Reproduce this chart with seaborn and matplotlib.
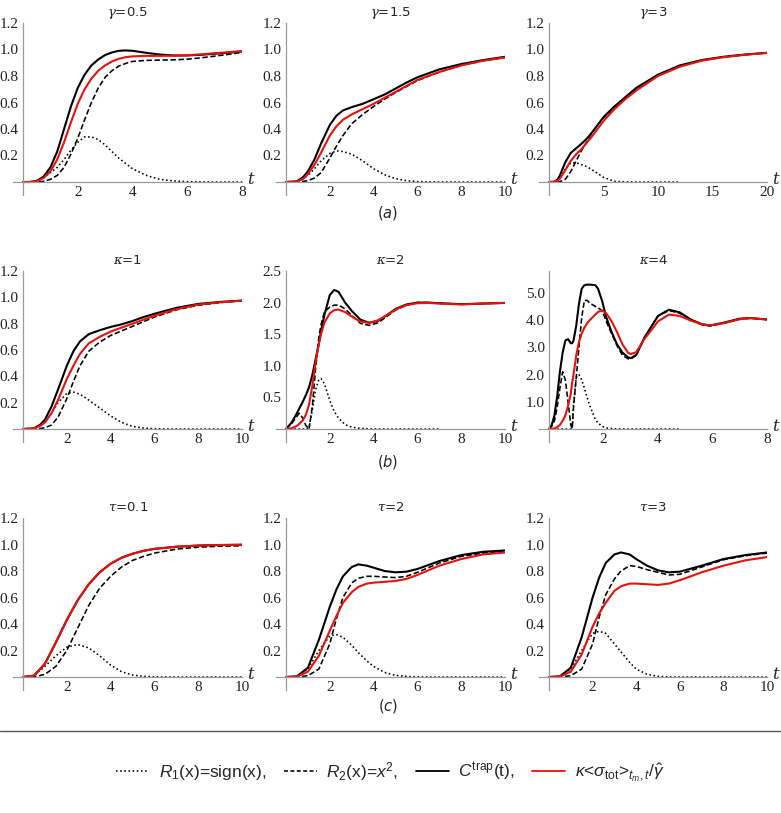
import matplotlib
matplotlib.use('Agg')
import matplotlib.pyplot as plt
import seaborn as sns
from matplotlib.lines import Line2D
from matplotlib.ticker import MultipleLocator, AutoMinorLocator, FuncFormatter

# ---- data (t, curve values) ----
# row (a): gamma
t_g05 = [0, 0.25, 0.5, 0.75, 1.0, 1.25, 1.5, 1.75, 2.0, 2.25, 2.5, 2.75, 3.0, 3.25, 3.5, 3.75, 4.0, 4.5, 5.0, 5.5, 6.0, 6.5, 7.0, 7.5, 8.0]
ctrap_g05 = [0, 0, 0.008, 0.04, 0.11, 0.23, 0.40, 0.57, 0.71, 0.81, 0.88, 0.925, 0.958, 0.978, 0.99, 0.993, 0.99, 0.975, 0.962, 0.955, 0.955, 0.96, 0.968, 0.976, 0.985]
kappa_g05 = [0, 0, 0.005, 0.03, 0.08, 0.17, 0.30, 0.45, 0.59, 0.70, 0.78, 0.84, 0.88, 0.91, 0.93, 0.942, 0.948, 0.952, 0.952, 0.953, 0.957, 0.963, 0.972, 0.98, 0.988]
r2_g05 = [0, 0, 0, 0.005, 0.02, 0.05, 0.11, 0.21, 0.33, 0.47, 0.60, 0.71, 0.79, 0.84, 0.875, 0.895, 0.91, 0.918, 0.92, 0.922, 0.927, 0.937, 0.95, 0.963, 0.978]
r1_g05 = [0, 0, 0.008, 0.035, 0.07, 0.11, 0.17, 0.24, 0.30, 0.34, 0.34, 0.32, 0.28, 0.23, 0.18, 0.14, 0.10, 0.05, 0.02, 0.008, 0.003, 0.001, 0, 0, 0]

t_g15 = [0, 0.5, 0.8, 1.0, 1.3, 1.6, 2.0, 2.3, 2.6, 3.0, 3.5, 4.0, 4.5, 5, 5.5, 6, 7, 8, 9, 10]
ctrap_g15 = [0, 0.005, 0.04, 0.08, 0.17, 0.29, 0.43, 0.50, 0.54, 0.565, 0.59, 0.625, 0.66, 0.705, 0.75, 0.79, 0.85, 0.89, 0.92, 0.945]
kappa_g15 = [0, 0.003, 0.025, 0.06, 0.13, 0.22, 0.35, 0.42, 0.47, 0.51, 0.55, 0.59, 0.635, 0.68, 0.725, 0.77, 0.83, 0.88, 0.915, 0.94]
r2_g15 = [0, 0, 0.005, 0.01, 0.03, 0.07, 0.18, 0.27, 0.35, 0.44, 0.51, 0.57, 0.625, 0.675, 0.72, 0.765, 0.83, 0.88, 0.915, 0.94]
r1_g15 = [0, 0.003, 0.03, 0.05, 0.10, 0.16, 0.215, 0.235, 0.23, 0.21, 0.16, 0.10, 0.055, 0.025, 0.01, 0.003, 0, 0, 0, 0]

t_g3 = [0, 0.5, 0.8, 1.0, 1.5, 2.0, 2.5, 3.0, 3.5, 4.0, 5.0, 6.0, 7.0, 8.0, 10, 12, 14, 16, 18, 20]
ctrap_g3 = [0, 0.002, 0.02, 0.05, 0.15, 0.22, 0.255, 0.29, 0.33, 0.38, 0.49, 0.57, 0.64, 0.71, 0.81, 0.88, 0.92, 0.945, 0.962, 0.975]
kappa_g3 = [0, 0.001, 0.01, 0.025, 0.09, 0.16, 0.21, 0.25, 0.30, 0.35, 0.46, 0.55, 0.625, 0.69, 0.80, 0.87, 0.915, 0.942, 0.96, 0.974]
r2_g3 = [0, 0, 0, 0.003, 0.02, 0.08, 0.16, 0.24, 0.31, 0.38, 0.485, 0.565, 0.635, 0.70, 0.805, 0.875, 0.918, 0.944, 0.961, 0.975]
r1_g3 = [0, 0.002, 0.015, 0.03, 0.10, 0.145, 0.145, 0.13, 0.115, 0.09, 0.035, 0.005, 0.001, 0, 0, 0]

# row (b): kappa
t_k1 = [0, 0.5, 0.8, 1.0, 1.3, 1.6, 2.0, 2.3, 2.6, 3.0, 3.5, 4.0, 4.5, 5, 5.5, 6, 7, 8, 9, 10]
ctrap_k1 = [0, 0.005, 0.035, 0.07, 0.17, 0.30, 0.48, 0.59, 0.665, 0.72, 0.75, 0.775, 0.795, 0.82, 0.85, 0.875, 0.92, 0.95, 0.965, 0.975]
kappa_k1 = [0, 0.003, 0.025, 0.05, 0.12, 0.22, 0.38, 0.48, 0.57, 0.65, 0.70, 0.74, 0.77, 0.80, 0.83, 0.86, 0.91, 0.945, 0.962, 0.975]
r2_k1 = [0, 0, 0.004, 0.01, 0.03, 0.09, 0.23, 0.36, 0.48, 0.59, 0.66, 0.71, 0.745, 0.78, 0.815, 0.85, 0.905, 0.94, 0.96, 0.975]
r1_k1 = [0, 0.004, 0.03, 0.05, 0.12, 0.20, 0.27, 0.28, 0.265, 0.22, 0.16, 0.10, 0.05, 0.02, 0.007, 0.002, 0, 0, 0, 0]

t_k2 = [0, 0.25, 0.5, 0.6, 0.75, 0.9, 1.05, 1.2, 1.35, 1.5, 1.6, 1.75, 2.0, 2.2, 2.4, 2.7, 3.0, 3.4, 3.8, 4.2, 4.6, 5.0, 5.5, 6.0, 6.5, 7, 8, 9, 10]
ctrap_k2 = [0, 0.1, 0.25, 0.32, 0.42, 0.53, 0.66, 0.85, 1.1, 1.35, 1.55, 1.8, 2.12, 2.2, 2.17, 2.0, 1.87, 1.73, 1.68, 1.71, 1.80, 1.9, 1.97, 2.0, 2.0, 1.99, 1.975, 1.985, 1.995]
kappa_k2 = [0, 0.01, 0.05, 0.08, 0.13, 0.22, 0.38, 0.68, 1.05, 1.35, 1.5, 1.68, 1.83, 1.88, 1.89, 1.85, 1.78, 1.70, 1.68, 1.72, 1.80, 1.89, 1.96, 1.99, 1.995, 1.985, 1.97, 1.985, 1.995]
r2_k2 = [0, 0.08, 0.2, 0.25, 0.18, 0.06, 0.0, 0.35, 0.95, 1.45, 1.65, 1.85, 1.93, 1.96, 1.96, 1.9, 1.8, 1.67, 1.64, 1.68, 1.78, 1.88, 1.96, 2.0, 2.0, 1.99, 1.975, 1.985, 1.995]
r1_k2 = [0, 0, 0, 0, 0, 0, 0.02, 0.30, 0.62, 0.78, 0.80, 0.72, 0.45, 0.28, 0.17, 0.07, 0.03, 0.01, 0.003, 0, 0, 0, 0, 0, 0, 0]

t_k4 = [0, 0.1, 0.2, 0.3, 0.4, 0.5, 0.6, 0.7, 0.8, 0.85, 0.9, 1.0, 1.1, 1.2, 1.3, 1.4, 1.5, 1.7, 1.8, 1.95, 2.1, 2.3, 2.5, 2.7, 2.9, 3.0, 3.2, 3.5, 4.0, 4.4, 4.8, 5.2, 5.6, 5.9, 6.4, 7.0, 7.4, 8.0]
ctrap_k4 = [0, 0.15, 0.5, 1.2, 2.1, 2.8, 3.25, 3.3, 3.15, 3.15, 3.25, 3.8, 4.6, 5.15, 5.28, 5.3, 5.3, 5.28, 5.15, 4.7, 4.1, 3.55, 3.1, 2.8, 2.63, 2.6, 2.72, 3.35, 4.15, 4.38, 4.28, 4.02, 3.85, 3.8, 3.9, 4.05, 4.07, 4.02]
kappa_k4 = [0, 0.005, 0.02, 0.07, 0.15, 0.3, 0.5, 0.85, 1.3, 1.7, 2.0, 2.7, 3.2, 3.5, 3.72, 3.88, 4.0, 4.2, 4.3, 4.35, 4.25, 3.95, 3.55, 3.1, 2.8, 2.75, 2.82, 3.3, 3.95, 4.2, 4.15, 3.98, 3.85, 3.8, 3.88, 4.03, 4.07, 4.02]
r2_k4 = [0, 0.1, 0.3, 0.8, 1.5, 2.1, 1.8, 1.0, 0.15, 0.0, 0.8, 1.9, 3.0, 4.1, 4.72, 4.72, 4.62, 4.5, 4.45, 4.35, 3.95, 3.5, 3.05, 2.7, 2.58, 2.57, 2.7, 3.35, 4.15, 4.35, 4.25, 4.0, 3.83, 3.78, 3.88, 4.04, 4.07, 4.02]
r1_k4 = [0, 0, 0, 0, 0, 0, 0, 0, 0, 0, 0.9, 1.9, 2.0, 1.8, 1.5, 1.15, 0.85, 0.35, 0.22, 0.1, 0.04, 0.015, 0.005, 0, 0, 0, 0, 0, 0, 0, 0]

# row (c): tau
t_t01 = [0, 0.5, 1.0, 1.5, 2.0, 2.5, 3.0, 3.5, 4.0, 4.5, 5.0, 5.5, 6.0, 7.0, 8.0, 9.0, 10.0]
ctrap_t01 = [0, 0.01, 0.10, 0.26, 0.43, 0.58, 0.70, 0.79, 0.855, 0.90, 0.93, 0.952, 0.967, 0.983, 0.992, 0.996, 0.998]
kappa_t01 = [0, 0.01, 0.10, 0.26, 0.43, 0.58, 0.70, 0.79, 0.855, 0.90, 0.93, 0.952, 0.967, 0.983, 0.992, 0.996, 0.998]
r2_t01 = [0, 0.001, 0.02, 0.08, 0.20, 0.37, 0.54, 0.67, 0.76, 0.83, 0.88, 0.91, 0.935, 0.965, 0.98, 0.987, 0.99]
r1_t01 = [0, 0.01, 0.08, 0.16, 0.225, 0.245, 0.22, 0.16, 0.09, 0.04, 0.015, 0.005, 0.001, 0, 0, 0, 0]

t_t2 = [0, 0.5, 1.0, 1.5, 2.0, 2.3, 2.6, 3.0, 3.3, 3.7, 4.0, 4.5, 5.0, 5.5, 6.0, 7.0, 8.0, 9.0, 10.0]
ctrap_t2 = [0, 0.005, 0.07, 0.28, 0.53, 0.66, 0.76, 0.83, 0.85, 0.84, 0.825, 0.80, 0.79, 0.795, 0.815, 0.875, 0.92, 0.945, 0.955]
kappa_t2 = [0, 0.003, 0.04, 0.16, 0.35, 0.46, 0.56, 0.64, 0.68, 0.705, 0.712, 0.718, 0.725, 0.74, 0.77, 0.84, 0.89, 0.925, 0.94]
r2_t2 = [0, 0, 0.01, 0.06, 0.25, 0.44, 0.60, 0.71, 0.745, 0.76, 0.76, 0.755, 0.75, 0.76, 0.79, 0.86, 0.91, 0.935, 0.95]
r1_t2 = [0, 0.003, 0.06, 0.20, 0.31, 0.32, 0.30, 0.24, 0.185, 0.12, 0.08, 0.035, 0.012, 0.004, 0.001, 0, 0, 0, 0]

t_t3 = [0, 0.5, 1.0, 1.5, 2.0, 2.3, 2.6, 3.0, 3.3, 3.7, 4.0, 4.5, 5.0, 5.5, 6.0, 7.0, 8.0, 9.0, 10.0]
ctrap_t3 = [0, 0.005, 0.07, 0.30, 0.60, 0.75, 0.86, 0.925, 0.94, 0.925, 0.89, 0.84, 0.805, 0.79, 0.795, 0.84, 0.89, 0.92, 0.94]
kappa_t3 = [0, 0.003, 0.04, 0.17, 0.38, 0.48, 0.56, 0.65, 0.685, 0.705, 0.705, 0.70, 0.695, 0.705, 0.73, 0.79, 0.84, 0.88, 0.905]
r2_t3 = [0, 0, 0.01, 0.06, 0.25, 0.45, 0.62, 0.74, 0.80, 0.84, 0.835, 0.81, 0.79, 0.77, 0.775, 0.83, 0.885, 0.915, 0.935]
r1_t3 = [0, 0.003, 0.06, 0.20, 0.33, 0.345, 0.33, 0.25, 0.19, 0.11, 0.06, 0.02, 0.005, 0.001, 0, 0, 0, 0, 0]

titles = [r'$\gamma$=0.5', r'$\gamma$=1.5', r'$\gamma$=3',
          r'$\kappa$=1', r'$\kappa$=2', r'$\kappa$=4',
          r'$\tau$=0.1', r'$\tau$=2', r'$\tau$=3']
t_max = [8, 10, 20, 10, 10, 8, 10, 10, 10]
x_major = [2, 2, 5, 2, 2, 2, 2, 2, 2]
y_top = [1.2, 1.2, 1.2, 1.2, 2.5, 5.8, 1.2, 1.2, 1.2]
y_major = [0.2, 0.2, 0.2, 0.2, 0.5, 1.0, 0.2, 0.2, 0.2]
row_labels = ['a', 'b', 'c']

panel_data = [
    (t_g05, r1_g05, r2_g05, ctrap_g05, kappa_g05),
    (t_g15, r1_g15, r2_g15, ctrap_g15, kappa_g15),
    (t_g3, r1_g3, r2_g3, ctrap_g3, kappa_g3),
    (t_k1, r1_k1, r2_k1, ctrap_k1, kappa_k1),
    (t_k2, r1_k2, r2_k2, ctrap_k2, kappa_k2),
    (t_k4, r1_k4, r2_k4, ctrap_k4, kappa_k4),
    (t_t01, r1_t01, r2_t01, ctrap_t01, kappa_t01),
    (t_t2, r1_t2, r2_t2, ctrap_t2, kappa_t2),
    (t_t3, r1_t3, r2_t3, ctrap_t3, kappa_t3),
]

# ---- style ----
sns.set_style('white')
plt.rcParams['font.family'] = ['Liberation Serif']
plt.rcParams['mathtext.fontset'] = 'custom'
plt.rcParams['mathtext.rm'] = 'Liberation Sans'
plt.rcParams['mathtext.it'] = 'Liberation Sans:italic'
plt.rcParams['mathtext.bf'] = 'Liberation Sans:bold'

W, H = 781, 813
fig = plt.figure(figsize=(W / 100, H / 100), dpi=100)

col_x0 = [23, 286, 549]      # pixel of t=0
col_x1 = [242, 505, 767]     # pixel of t=t_max
row_y0 = [182, 429, 677]     # pixel of y=0
row_h = [159, 158, 159]      # pixels from y=0 up to y_top
title_y = [13, 260, 507]
label_y = [213, 462, 706]

grey = '#9a9a9a'
red = '#e8120c'
dotted = (0, (1, 1.6))
dashed = (0, (3.4, 1.6))

for i, (t, r1, r2, ct, kp) in enumerate(panel_data):
    r, c = divmod(i, 3)
    x0, x1 = col_x0[c], col_x1[c]
    y0, hgt = row_y0[r], row_h[r]
    ext_l, ext_b = 10, 13
    left = x0 - ext_l
    bottom = y0 + ext_b
    ax = fig.add_axes([left / W, 1 - bottom / H, (x1 - left) / W, (hgt + ext_b) / H])
    tm = t_max[i]
    ax.set_xlim(-ext_l / (x1 - x0) * tm, tm)
    ax.set_ylim(-ext_b / hgt * y_top[i], y_top[i])

    sns.lineplot(x=t[:len(r1)], y=r1, ax=ax, color='black', lw=1.15, linestyle=dotted, estimator=None, sort=False)
    sns.lineplot(x=t, y=r2, ax=ax, color='black', lw=1.15, linestyle=dashed, estimator=None, sort=False)
    sns.lineplot(x=t, y=ct, ax=ax, color='black', lw=1.5, estimator=None, sort=False)
    sns.lineplot(x=t, y=kp, ax=ax, color=red, lw=1.5, estimator=None, sort=False)

    for s in ['top', 'right']:
        ax.spines[s].set_visible(False)
    for s in ['left', 'bottom']:
        ax.spines[s].set_position(('data', 0))
        ax.spines[s].set_color(grey)
        ax.spines[s].set_linewidth(0.9)

    ax.xaxis.set_major_locator(MultipleLocator(x_major[i]))
    ax.xaxis.set_minor_locator(AutoMinorLocator(5))
    ax.yaxis.set_major_locator(MultipleLocator(y_major[i]))
    ax.yaxis.set_minor_locator(AutoMinorLocator(5))
    ax.xaxis.set_major_formatter(FuncFormatter(lambda v, p: '' if abs(v) < 1e-9 else '%g' % v))
    ax.yaxis.set_major_formatter(FuncFormatter(lambda v, p: '' if abs(v) < 1e-9 else '%.1f' % v))
    ax.tick_params(which='major', direction='in', length=4, width=0.8, color=grey,
                   labelsize=11, pad=3, labelcolor='#222222')
    ax.tick_params(which='minor', direction='in', length=2.2, width=0.6, color='#c0c0c0')
    ax.set_xlabel('')
    ax.set_ylabel('')
    ax.annotate('t', xy=(tm, 0), xytext=(4, 2), textcoords='offset points',
                ha='left', va='center', fontsize=12, style='italic', family='DejaVu Serif',
                annotation_clip=False)

    fig.text((x0 + x1) / 2 / W - 0.006, 1 - title_y[r] / H, titles[i], ha='center', va='center',
             fontsize=9.5, family='DejaVu Sans', math_fontfamily='dejavuserif')

for r in range(3):
    fig.text(388 / W, 1 - label_y[r] / H, '($' + row_labels[r] + '$)',
             ha='center', va='center', fontsize=10.5, family='DejaVu Sans', math_fontfamily='dejavusans')

fig.add_artist(Line2D([0, 1], [1 - 731 / H] * 2, color='#555555', lw=1.0, transform=fig.transFigure))

handles = [Line2D([], [], color='black', lw=1.15, linestyle=dotted),
           Line2D([], [], color='black', lw=1.15, linestyle=(0, (2.5, 1.5))),
           Line2D([], [], color='black', lw=1.3),
           Line2D([], [], color=red, lw=1.3)]
labels = [r'$R_1$(x)=sign(x),', r'$R_2$(x)=$x^2$,', r'$C^{\rm trap}$(t),',
          r'$\kappa$<$\sigma_{\rm tot}$>$_{t_m,t}/\hat{\gamma}$']
fig.legend(handles, labels, loc='center', bbox_to_anchor=(0.5, 1 - 772 / H), ncol=4,
           frameon=False, prop={'family': 'Liberation Sans', 'size': 12.5},
           handlelength=1.9, handletextpad=0.55, columnspacing=1.0)

plt.savefig('out.png', dpi=100)
